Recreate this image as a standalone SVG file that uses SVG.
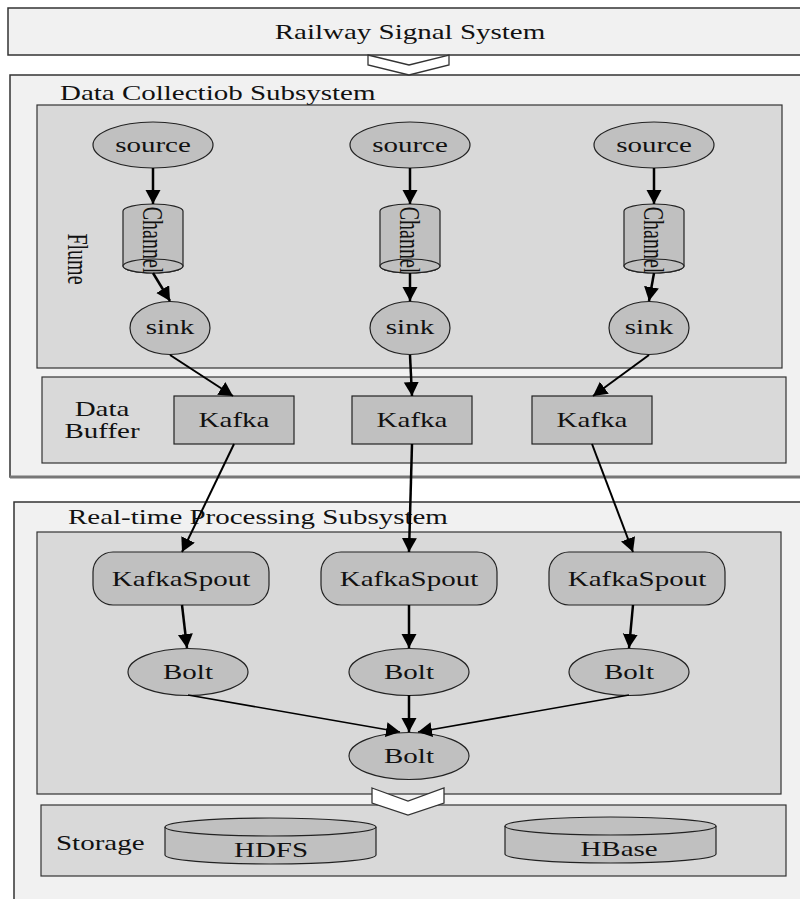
<svg xmlns="http://www.w3.org/2000/svg" width="800" height="899" viewBox="0 0 800 899">
<style>
text{font-family:"Liberation Serif","Times New Roman",serif;font-size:20px;fill:#111}
.c{text-anchor:middle}
.outer{fill:#f1f1f1;stroke:#333;stroke-width:1.5}
.inner{fill:#d9d9d9;stroke:#333;stroke-width:1.2}
.node{fill:#c0c0c0;stroke:#222;stroke-width:1.2}
.chev{fill:#fff;stroke:#333;stroke-width:1.3}
.arr{fill:none;stroke:#000;stroke-width:2.5;marker-end:url(#ah)}
.arr2{fill:none;stroke:#000;stroke-width:2;marker-end:url(#ah)}
.arr3{fill:none;stroke:#000;stroke-width:1.6;marker-end:url(#ah)}
</style>
<defs>
<marker id="ah" markerUnits="userSpaceOnUse" markerWidth="16" markerHeight="16" refX="14" refY="7.5" orient="auto" viewBox="0 0 16 16">
<path d="M0,0 L14,7.5 L0,15 z" fill="#000"/>
</marker>
</defs>
<rect width="800" height="899" fill="#fff"/>

<g id="railway-signal-system">
<rect class="outer" x="8" y="8" width="800" height="47"/>
<text transform="translate(410,39) scale(1.45,1)" class="c">Railway Signal System</text>
</g>

<g id="data-collection-subsystem">
<rect class="outer" x="10" y="75" width="800" height="402"/>
<line x1="10" y1="477" x2="800" y2="477" stroke="#777" stroke-width="3"/>
<text transform="translate(60,100) scale(1.45,1)">Data Collectiob Subsystem</text>
</g>

<g id="flume">
<rect class="inner" x="37" y="105" width="745" height="263"/>
<text transform="translate(68,259) scale(1.45,1) rotate(90)" class="c">Flume</text>
</g>

<g id="source1"><ellipse class="node" cx="153" cy="145" rx="60" ry="23"/><text transform="translate(153,152) scale(1.45,1)" class="c">source</text></g>
<g id="source2"><ellipse class="node" cx="410" cy="145" rx="60" ry="23"/><text transform="translate(410,152) scale(1.45,1)" class="c">source</text></g>
<g id="source3"><ellipse class="node" cx="654" cy="145" rx="60" ry="23"/><text transform="translate(654,152) scale(1.45,1)" class="c">source</text></g>

<g id="channel1">
<path class="node" d="M123,211 A30,7 0 0,1 183,211 L183,266 A30,7 0 0,1 123,266 Z"/>
<ellipse class="node" cx="153" cy="266" rx="30" ry="7"/>
<text transform="translate(143,240) scale(1.45,1) rotate(90)" class="c">Channel</text>
</g>
<g id="channel2">
<path class="node" d="M380,211 A30,7 0 0,1 440,211 L440,266 A30,7 0 0,1 380,266 Z"/>
<ellipse class="node" cx="410" cy="266" rx="30" ry="7"/>
<text transform="translate(400,240) scale(1.45,1) rotate(90)" class="c">Channel</text>
</g>
<g id="channel3">
<path class="node" d="M624,211 A30,7 0 0,1 684,211 L684,266 A30,7 0 0,1 624,266 Z"/>
<ellipse class="node" cx="654" cy="266" rx="30" ry="7"/>
<text transform="translate(644,240) scale(1.45,1) rotate(90)" class="c">Channel</text>
</g>

<g id="sink1"><ellipse class="node" cx="170" cy="328" rx="40" ry="26.5"/><text transform="translate(170,334) scale(1.45,1)" class="c">sink</text></g>
<g id="sink2"><ellipse class="node" cx="410" cy="328" rx="40" ry="26.5"/><text transform="translate(410,334) scale(1.45,1)" class="c">sink</text></g>
<g id="sink3"><ellipse class="node" cx="649" cy="328" rx="40" ry="26.5"/><text transform="translate(649,334) scale(1.45,1)" class="c">sink</text></g>

<g id="data-buffer">
<rect class="inner" x="42" y="377" width="744" height="86"/>
<text transform="translate(102,416) scale(1.45,1)" class="c">Data</text>
<text transform="translate(102,438) scale(1.45,1)" class="c">Buffer</text>
</g>

<g id="kafka1"><rect class="node" x="174" y="396" width="120" height="48"/><text transform="translate(234,427) scale(1.45,1)" class="c">Kafka</text></g>
<g id="kafka2"><rect class="node" x="352" y="396" width="120" height="48"/><text transform="translate(412,427) scale(1.45,1)" class="c">Kafka</text></g>
<g id="kafka3"><rect class="node" x="532" y="396" width="120" height="48"/><text transform="translate(592,427) scale(1.45,1)" class="c">Kafka</text></g>

<g id="real-time-processing-subsystem">
<rect class="outer" x="14" y="502" width="800" height="420"/>
<text transform="translate(68,524) scale(1.45,1)">Real-time Processing Subsystem</text>
</g>

<g id="storm">
<rect class="inner" x="37" y="532" width="744" height="262"/>
</g>

<g id="kafkaspout1"><rect class="node" x="93" y="552" width="176" height="53" rx="20" ry="20"/><text transform="translate(181,586) scale(1.45,1)" class="c">KafkaSpout</text></g>
<g id="kafkaspout2"><rect class="node" x="321" y="552" width="176" height="53" rx="20" ry="20"/><text transform="translate(409,586) scale(1.45,1)" class="c">KafkaSpout</text></g>
<g id="kafkaspout3"><rect class="node" x="549" y="552" width="176" height="53" rx="20" ry="20"/><text transform="translate(637,586) scale(1.45,1)" class="c">KafkaSpout</text></g>

<g id="bolt1"><ellipse class="node" cx="188" cy="672" rx="60" ry="23.5"/><text transform="translate(188,679) scale(1.45,1)" class="c">Bolt</text></g>
<g id="bolt2"><ellipse class="node" cx="409" cy="672" rx="60" ry="23.5"/><text transform="translate(409,679) scale(1.45,1)" class="c">Bolt</text></g>
<g id="bolt3"><ellipse class="node" cx="629" cy="672" rx="60" ry="23.5"/><text transform="translate(629,679) scale(1.45,1)" class="c">Bolt</text></g>
<g id="bolt4"><ellipse class="node" cx="409" cy="756" rx="60" ry="23.5"/><text transform="translate(409,763) scale(1.45,1)" class="c">Bolt</text></g>

<g id="storage">
<rect class="inner" x="41" y="805" width="745" height="71"/>
<text transform="translate(56,850) scale(1.45,1)">Storage</text>
</g>

<g id="hdfs">
<path class="node" d="M165,827 A105.5,9 0 0,1 376,827 L376,855 A105.5,9 0 0,1 165,855 Z"/>
<path fill="none" stroke="#222" stroke-width="1.2" d="M165,827 A105.5,9 0 0,0 376,827"/>
<text transform="translate(271,857) scale(1.45,1)" class="c">HDFS</text>
</g>
<g id="hbase">
<path class="node" d="M505,826 A105.5,9 0 0,1 716,826 L716,854 A105.5,9 0 0,1 505,854 Z"/>
<path fill="none" stroke="#222" stroke-width="1.2" d="M505,826 A105.5,9 0 0,0 716,826"/>
<text transform="translate(619,856) scale(1.45,1)" class="c">HBase</text>
</g>

<g id="chevrons">
<polygon class="chev" points="368,55 409,65 449,55 449,65 409,75 368,65"/>
<polygon class="chev" points="372,788 408,801 444,788 444,803 408,815 372,803"/>
</g>

<g id="connectors">
<path class="arr" d="M153,168 L153,204"/>
<path class="arr" d="M410,168 L410,204"/>
<path class="arr" d="M654,168 L654,204"/>
<path class="arr" d="M153,273 L170,301"/>
<path class="arr" d="M410,273 L410,301"/>
<path class="arr" d="M654,273 L649,301"/>
<path class="arr2" d="M170,355 L233,396"/>
<path class="arr" d="M410,355 L412,396"/>
<path class="arr2" d="M649,355 L593,396"/>
<path class="arr2" d="M234,444 L182,552"/>
<path class="arr" d="M412,444 L409,552"/>
<path class="arr2" d="M592,444 L633,552"/>
<path class="arr" d="M182,605 L187,648"/>
<path class="arr" d="M409,605 L409,648"/>
<path class="arr" d="M633,605 L629,648"/>
<path class="arr3" d="M188,695 L400,732"/>
<path class="arr" d="M409,695 L409,732"/>
<path class="arr3" d="M629,695 L418,732"/>
</g>
</svg>
